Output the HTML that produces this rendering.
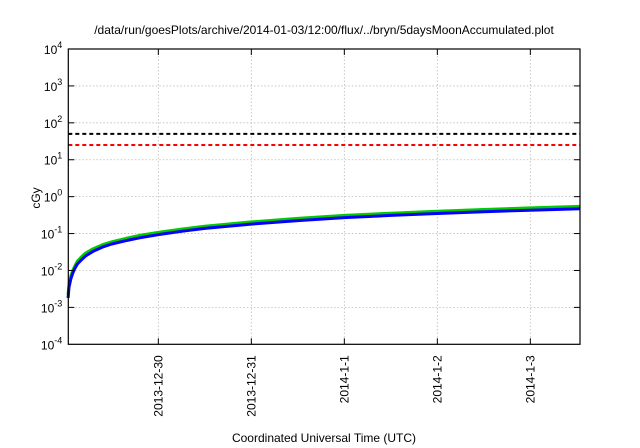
<!DOCTYPE html>
<html><head><meta charset="utf-8"><style>
body{margin:0;background:#fff;}
svg{display:block;font-family:"Liberation Sans",sans-serif;}
</style></head><body>
<svg id="chart" width="640" height="448" viewBox="0 0 640 448">
<text x="324" y="34" font-size="12" text-anchor="middle" fill="#000">/data/run/goesPlots/archive/2014-01-03/12:00/flux/../bryn/5daysMoonAccumulated.plot</text>
<g id="grid"></g><g id="series"></g><g id="axes"></g>
<text transform="translate(40,198) rotate(-90)" font-size="12" text-anchor="middle">cGy</text>
<text x="324" y="442" font-size="12" text-anchor="middle">Coordinated Universal Time (UTC)</text>
</svg>
<script>
// days since 2013-12-29 00:00
const times=[0.03,0.04,0.06,0.08,0.1,0.13,0.17,0.22,0.3,0.4,0.5,0.65,0.8,1,1.25,1.5,2,2.5,3,3.5,4,4.5,5,5.53];
const blueVals=[0.0018,0.0035,0.006,0.0085,0.011,0.015,0.019,0.025,0.033,0.043,0.052,0.064,0.077,0.094,0.115,0.138,0.18,0.225,0.27,0.31,0.35,0.39,0.43,0.47];
const greenVals=[0.0022,0.0042,0.0072,0.010,0.013,0.018,0.023,0.03,0.039,0.05,0.06,0.074,0.089,0.108,0.132,0.158,0.207,0.258,0.31,0.357,0.403,0.45,0.495,0.545];
const orangeVals=[0.0023,0.0044,0.0075,0.0105,0.0136,0.0188,0.024,0.031,0.041,0.052,0.063,0.077,0.093,0.113,0.138,0.165,0.216,0.27,0.323,0.372,0.42,0.47,0.515,0.57];
const thresholds=[50,25];
const thresholdColors=["#000","#f00"];
const xTickDays=[1,2,3,4,5];
const xTickLabels=["2013-12-30","2013-12-31","2014-1-1","2014-1-2","2014-1-3"];
const yExps=[-4,-3,-2,-1,0,1,2,3,4];
const L=68.3,R=580,T=49,B=344.3,D0=0.032,D1=5.534;
const X=d=>L+(d-D0)/(D1-D0)*(R-L);
const Y=v=>B-(Math.log10(v)+4)/8*(B-T);
const NS="http://www.w3.org/2000/svg";
function mk(p,t,a){const e=document.createElementNS(NS,t);for(const k in a)e.setAttribute(k,a[k]);document.getElementById(p).appendChild(e);return e;}
yExps.forEach(e=>{const y=Y(Math.pow(10,e));
 if(e>-4&&e<4){const g=mk("grid","line",{x1:L,x2:R,y1:y,y2:y,stroke:"#bbb","stroke-width":0.8,"stroke-dasharray":"1.5,2"});
 
 
 mk("axes","line",{x1:L,x2:L+6,y1:y,y2:y,stroke:"#000"});mk("axes","line",{x1:R,x2:R-6,y1:y,y2:y,stroke:"#000"});}
 const t=mk("axes","text",{x:L-6,y:y+5,"font-size":12,"text-anchor":"end"});
 
 
 t.textContent="10";const s=document.createElementNS(NS,"tspan");s.setAttribute("dy","-6");s.setAttribute("font-size","9");s.textContent=e;t.appendChild(s);
});
xTickDays.forEach((d,i)=>{const x=X(d);
 const g=mk("grid","line",{x1:x,x2:x,y1:T,y2:B,stroke:"#bbb","stroke-width":0.8,"stroke-dasharray":"1.5,2"});
 
 
 mk("axes","line",{x1:x,x2:x,y1:B,y2:B-6,stroke:"#000"});mk("axes","line",{x1:x,x2:x,y1:T,y2:T+6,stroke:"#000"});
 const t=mk("axes","text",{transform:`translate(${x+4},${B+11}) rotate(-90)`,"font-size":12,"text-anchor":"end"});
 
 
 t.textContent=xTickLabels[i];
});
const fr=mk("axes","rect",{x:L,y:T,width:R-L,height:B-T,fill:"none",stroke:"#000","stroke-width":1.2});


thresholds.forEach((v,i)=>{const l=mk("series","line",{x1:L,x2:R,y1:Y(v),y2:Y(v),stroke:thresholdColors[i],"stroke-width":2,"stroke-dasharray":"4,3"});
 
 });
function path(vals,c,w,n){const p=mk("series","path",{d:times.map((t,i)=>(i?"L":"M")+X(t).toFixed(1)+","+Y(vals[i]).toFixed(1)).join(""),fill:"none",stroke:c,"stroke-width":w,"stroke-linejoin":"round"});
 
 }
path(orangeVals,"#f80",1,"orange-series");
path(greenVals,"#0c0",3,"green-series");
path(blueVals,"#00f",3,"blue-series");
</script>
</body></html>
